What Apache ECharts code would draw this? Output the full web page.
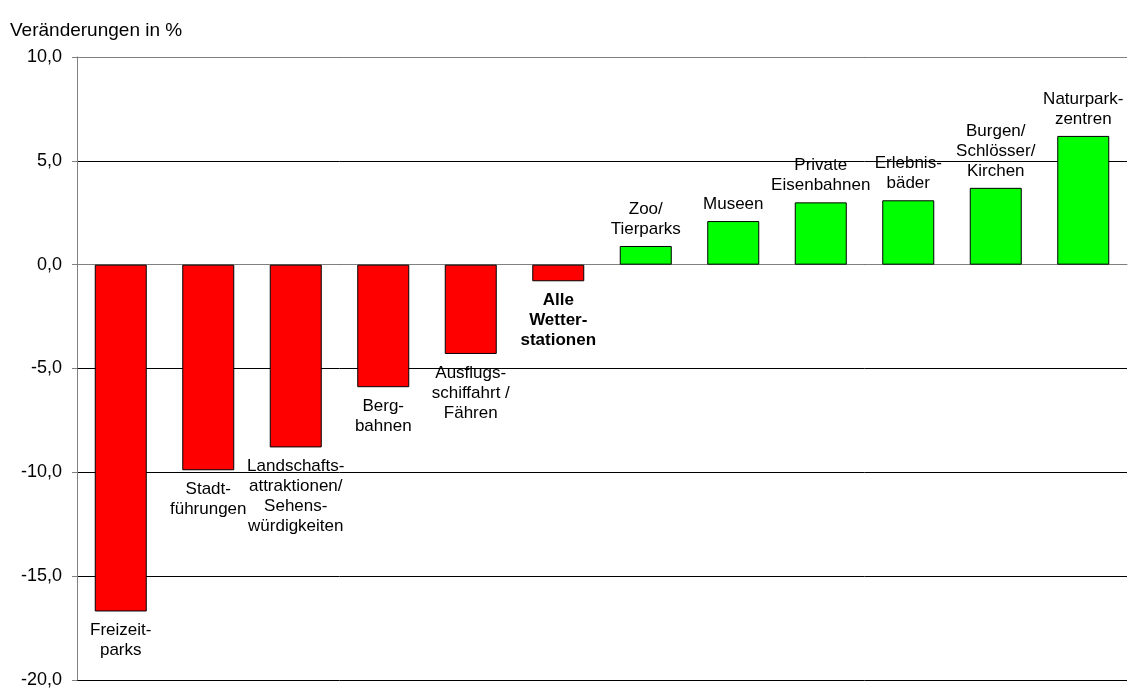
<!DOCTYPE html>
<html>
<head>
<meta charset="utf-8">
<script src="https://cdn.jsdelivr.net/npm/echarts@6/dist/echarts.min.js"></script>
<style>
html,body{margin:0;padding:0;background:#fff;}
#c{width:1129px;height:689px;}
</style>
</head>
<body>
<div id="c"></div>
<script>
var categories = [
  "Freizeit-\nparks",
  "Stadt-\nführungen",
  "Landschafts-\nattraktionen/\nSehens-\nwürdigkeiten",
  "Berg-\nbahnen",
  "Ausflugs-\nschiffahrt /\nFähren",
  "Alle\nWetter-\nstationen",
  "Zoo/\nTierparks",
  "Museen",
  "Private\nEisenbahnen",
  "Erlebnis-\nbäder",
  "Burgen/\nSchlösser/\nKirchen",
  "Naturpark-\nzentren"
];
var values = [-16.7, -9.9, -8.8, -5.9, -4.3, -0.8, 0.9, 2.1, 3.0, 3.1, 3.7, 6.2];
var boldIndex = [5];
var yTicks = { min: -20, max: 10, interval: 5 };
var axisTitle = "Veränderungen in %";

var FONT = "Liberation Sans, Arial, sans-serif";
var data = values.map(function (v, i) {
  return {
    value: v,
    itemStyle: { color: v < 0 ? "#FF0000" : "#00FF00" },
    label: {
      position: v < 0 ? "bottom" : "top",
      distance: v < 0 ? 9 : 7,
      fontWeight: boldIndex.indexOf(i) >= 0 ? "bold" : "normal"
    }
  };
});

var chart = echarts.init(document.getElementById("c"), null, { renderer: "canvas" });
chart.setOption({
  animation: false,
  backgroundColor: "#fff",
  title: {
    text: axisTitle,
    left: 10,
    top: 21,
    padding: 0,
    textStyle: { fontFamily: FONT, fontSize: 19, fontWeight: "normal", color: "#000", lineHeight: 20 }
  },
  grid: { left: 77, right: 2, top: 57, bottom: 6, containLabel: false },
  xAxis: {
    type: "category",
    data: categories,
    axisLine: { show: true, onZero: true, lineStyle: { color: "#808080", width: 1 } },
    axisTick: { show: false },
    axisLabel: { show: false },
    splitLine: { show: false }
  },
  yAxis: {
    type: "value",
    min: yTicks.min,
    max: yTicks.max,
    interval: yTicks.interval,
    axisLine: { show: true, lineStyle: { color: "#808080", width: 1 } },
    axisTick: { show: true, inside: false, length: 5, lineStyle: { color: "#808080" } },
    axisLabel: {
      margin: 15,
      fontFamily: FONT,
      fontSize: 18,
      color: "#000",
      formatter: function (v) { return v.toFixed(1).replace(".", ","); }
    },
    splitLine: { show: true, lineStyle: { color: "#000", width: 1 } }
  },
  series: [{
    type: "bar",
    data: data,
    barWidth: 52,
    itemStyle: { borderColor: "#000", borderWidth: 1 },
    label: {
      show: true,
      fontFamily: FONT,
      fontSize: 17,
      lineHeight: 20,
      color: "#000",
      align: "center",
      formatter: function (p) { return categories[p.dataIndex]; }
    },
    markLine: {
      silent: true,
      symbol: "none",
      label: { show: false },
      lineStyle: { color: "#808080", type: "solid", width: 1 },
      data: [{ yAxis: yTicks.max }]
    }
  }]
});
</script>
</body>
</html>
